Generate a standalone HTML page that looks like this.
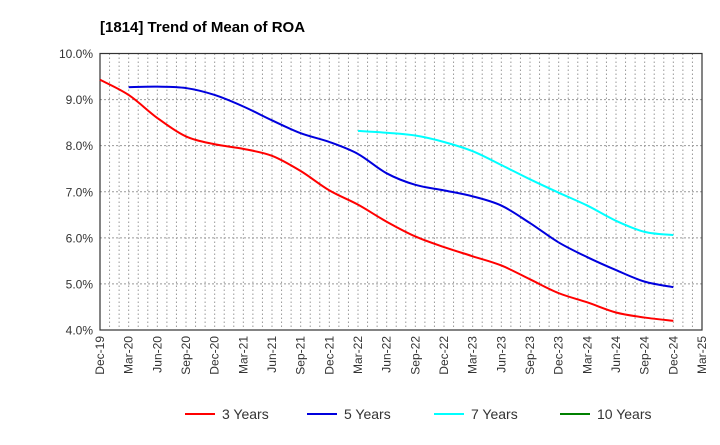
<!DOCTYPE html>
<html><head><meta charset="utf-8"><style>
body{margin:0;background:#fff;font-family:"Liberation Sans",Arial,sans-serif}
svg text{font-family:"Liberation Sans",Arial,sans-serif}
</style></head><body>
<svg id="c" width="720" height="440" xmlns="http://www.w3.org/2000/svg">
<text x="100" y="32" font-size="15" font-weight="bold" fill="#000">[1814]  Trend of Mean of ROA</text>
<g id="grid"></g><g id="axes"></g><g id="series"></g><g id="legend"></g>
</svg>
<script>
const xLabels=["Dec-19","Mar-20","Jun-20","Sep-20","Dec-20","Mar-21","Jun-21","Sep-21","Dec-21","Mar-22","Jun-22","Sep-22","Dec-22","Mar-23","Jun-23","Sep-23","Dec-23","Mar-24","Jun-24","Sep-24","Dec-24","Mar-25"];
const yTicks=[4,5,6,7,8,9,10];
const s3=[9.43,9.1,8.6,8.2,8.03,7.93,7.78,7.45,7.03,6.72,6.35,6.03,5.8,5.6,5.4,5.1,4.8,4.6,4.38,4.27,4.2];
const s5=[null,9.27,9.28,9.25,9.1,8.85,8.55,8.27,8.08,7.82,7.4,7.15,7.03,6.9,6.7,6.32,5.9,5.58,5.3,5.05,4.93];
const s7=[null,null,null,null,null,null,null,null,null,8.32,8.28,8.22,8.08,7.88,7.58,7.27,6.98,6.7,6.37,6.13,6.06];
const s10=[];
const X0=100,X1=702,Y0=330,Y1=53.5;
const xm=m=>X0+m*(X1-X0)/63;
const xq=i=>xm(i*3);
const y=v=>Y0-(v-4)*(Y0-Y1)/6;
const NS="http://www.w3.org/2000/svg";
function mk(t,a,p){const e=document.createElementNS(NS,t);for(const k in a)e.setAttribute(k,a[k]);p.appendChild(e);return e;}
const g=document.getElementById('grid');
for(let m=1;m<63;m++){const l=mk('line',{x1:xm(m),x2:xm(m),y1:Y1,y2:Y0,stroke:'#999','stroke-dasharray':'1.5,2.5','stroke-width':1},g);

}
yTicks.forEach(v=>{if(v>4&&v<10){const l=mk('line',{x1:X0,x2:X1,y1:y(v),y2:y(v),stroke:'#999','stroke-dasharray':'2,2','stroke-width':1},g);

}});
const a=document.getElementById('axes');
const fr=mk('rect',{x:X0,y:Y1,width:X1-X0,height:Y0-Y1,fill:'none',stroke:'#333','stroke-width':1.2},a);


yTicks.forEach(v=>{const t=mk('text',{x:X0-7,y:y(v)+4.5,'font-size':12,'text-anchor':'end',fill:'#333'},a);t.textContent=v.toFixed(1)+'%';

});
xLabels.forEach((s,i)=>{const xx=xq(i);const t=mk('text',{x:xx+4,y:Y0+6,'font-size':12,'text-anchor':'end',fill:'#333',transform:`rotate(-90 ${xx+4} ${Y0+6})`},a);t.textContent=s;

});
function path(arr){const p=[];arr.forEach((v,i)=>{if(v!=null)p.push([xq(i),y(v)]);});if(p.length<2)return '';
let d=`M${p[0][0]},${p[0][1]}`;for(let i=0;i<p.length-1;i++){const p0=p[i-1]||p[i],p1=p[i],p2=p[i+1],p3=p[i+2]||p2;
d+=` C${p1[0]+(p2[0]-p0[0])/6},${p1[1]+(p2[1]-p0[1])/6} ${p2[0]-(p3[0]-p1[0])/6},${p2[1]-(p3[1]-p1[1])/6} ${p2[0]},${p2[1]}`;}return d;}
const sg=document.getElementById('series');
[[s3,'#ff0000','series-3-years'],[s5,'#0000dd','series-5-years'],[s7,'#00ffff','series-7-years'],[s10,'#008000','series-10-years']].forEach(([arr,c,n])=>{const d=path(arr);if(!d)return;
const e=mk('path',{d,fill:'none',stroke:c,'stroke-width':2},sg);

});
const lg=document.getElementById('legend');
[['3 Years','#ff0000',185],['5 Years','#0000dd',307],['7 Years','#00ffff',434],['10 Years','#008000',560]].forEach(([s,c,x])=>{
const gg=mk('g',{},lg);


mk('line',{x1:x,x2:x+30,y1:414,y2:414,stroke:c,'stroke-width':2},gg);
const t=mk('text',{x:x+37,y:419,'font-size':14,fill:'#333'},gg);t.textContent=s;});
</script>
</body></html>
